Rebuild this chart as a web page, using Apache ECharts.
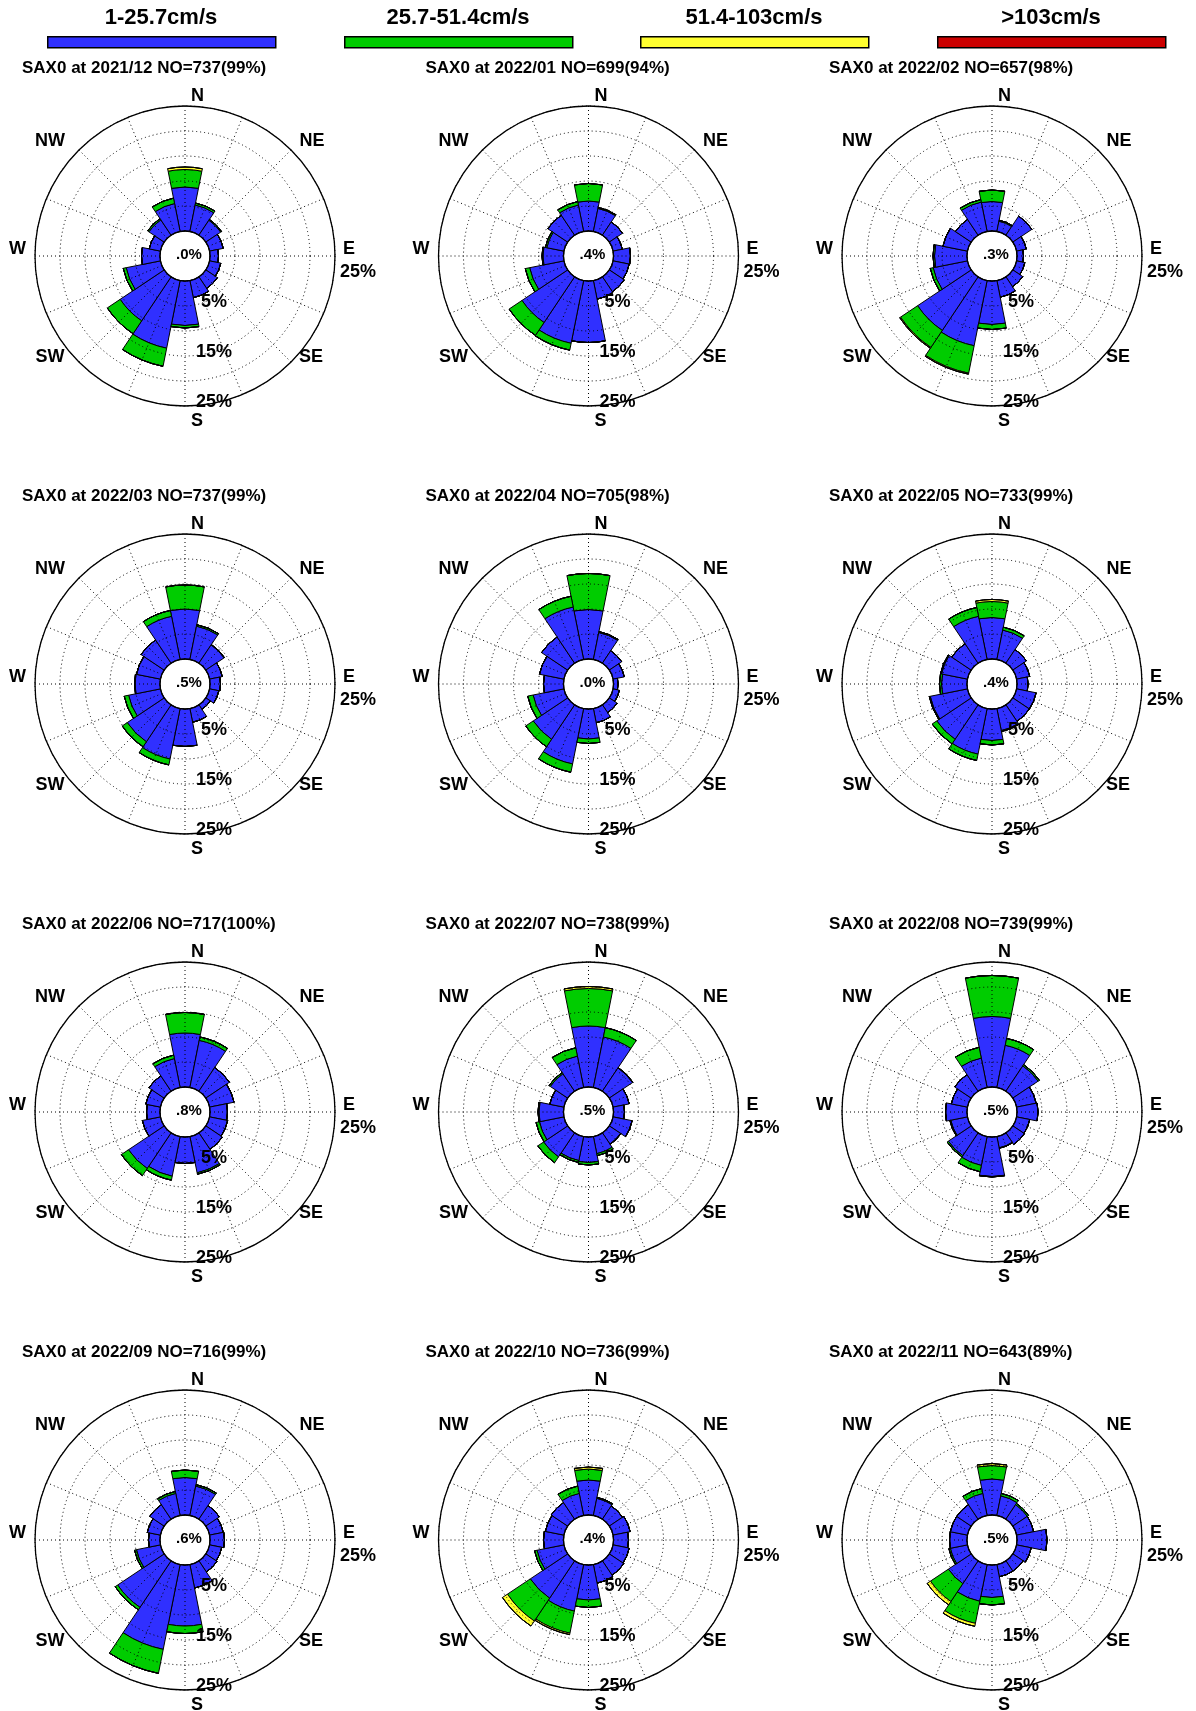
<!DOCTYPE html>
<html>
<head>
<meta charset="utf-8">
<script src="https://cdn.jsdelivr.net/npm/echarts@6/dist/echarts.min.js"></script>
<style>
html,body{margin:0;padding:0;background:#ffffff;}
#chart{width:1196px;height:1711px;}
</style>
</head>
<body>
<div id="chart"></div>
<script>
// ---------------- DATA ----------------
const directions = ['N','NNE','NE','ENE','E','ESE','SE','SSE','S','SSW','SW','WSW','W','WNW','NW','NNW'];
const speedClasses = ['1-25.7cm/s','25.7-51.4cm/s','51.4-103cm/s','>103cm/s'];
const months = ['2021/12','2022/01','2022/02','2022/03','2022/04','2022/05','2022/06','2022/07','2022/08','2022/09','2022/10','2022/11'];
const counts = ['737(99%)','699(94%)','657(98%)','737(99%)','705(98%)','733(99%)','717(100%)','738(99%)','739(99%)','716(99%)','736(99%)','643(89%)'];
const calms = ['.0%','.4%','.3%','.5%','.0%','.4%','.8%','.5%','.5%','.6%','.4%','.5%'];
const compassLabels = ['N','NE','E','SE','S','SW','W','NW'];
const ringTicks = [5, 15, 25];

// percent frequency, 1-25.7 cm/s
const speed1 = [
  [8.8,5.4,3.6,2.8,1.7,2.3,2.8,3.5,8.9,13.8,10.6,7.0,3.7,2.3,3.7,5.7],
  [6.0,4.7,3.2,1.9,3.4,3.3,3.6,3.8,12.3,12.8,11.0,7.0,4.1,3.5,4.8,5.4],
  [5.9,2.1,4.6,2.0,1.3,1.7,2.4,3.4,8.7,13.3,12.9,7.0,6.5,5.0,3.8,6.0],
  [10.0,6.8,4.4,2.6,2.1,1.9,1.1,2.8,7.5,10.3,8.9,6.5,5.0,4.9,5.6,8.8],
  [9.9,5.5,3.0,2.3,0.9,1.3,1.9,2.9,6.0,11.3,8.3,6.3,4.0,5.0,6.3,10.7],
  [8.3,6.0,3.3,2.7,2.2,4.0,4.0,4.5,6.3,9.3,8.3,7.6,5.1,5.3,4.7,8.8],
  [10.8,9.6,5.7,5.0,3.5,3.7,4.0,7.4,5.3,8.1,8.6,3.7,2.7,3.0,3.7,5.9],
  [12.2,10.3,5.6,3.3,2.2,3.9,2.7,3.5,5.1,4.9,5.8,5.0,4.9,2.9,4.2,6.4],
  [14.1,8.6,6.1,4.0,4.2,2.7,2.8,2.3,7.9,5.9,5.5,3.4,4.3,3.3,4.0,6.0],
  [7.5,6.0,3.3,2.8,2.9,2.5,2.7,4.8,12.2,17.3,11.2,4.9,2.3,2.7,3.5,4.5],
  [7.0,3.5,3.2,3.5,3.0,3.3,3.5,3.8,7.0,9.5,9.0,5.5,4.0,3.8,4.0,4.5],
  [7.2,4.0,3.5,3.5,6.0,3.0,2.5,2.5,6.5,7.5,5.5,3.5,3.5,3.5,3.5,4.5]
];
// 25.7-51.4 cm/s
const speed2 = [
  [3.5,0.4,0.2,0,0,0,0,0,0.5,3.7,3.1,0.6,0,0,0.3,1.1],
  [3.5,0.2,0,0,0,0,0,0,0,1.4,3.1,0.9,0.2,0.3,0,0.7],
  [2.3,0.2,0,0,0,0,0,0,1.0,5.6,4.1,0.6,0.3,0,0,0.5],
  [4.8,0.3,0.1,0,0,0,0,0,0,1.2,1.2,0.9,0.1,0,0,1.2],
  [7.2,0.2,0,0,0,0,0,0,0.9,1.7,1.8,1.1,0,0,0,2.2],
  [3.2,0.6,0,0,0,0,0,0.2,0.9,1.3,1.1,0.2,0.4,0.2,0,1.8],
  [4.1,0.7,0,0,0,0,0,0.3,0,0.8,1.7,0,0,0,0,0.7],
  [7.5,1.9,0.1,0,0,0,0.1,0.4,0.5,0.4,1.4,0.7,0.2,0,0.3,1.7],
  [8.2,1.4,0.3,0,0,0,0,0.1,0.1,1.3,0.3,0.2,0,0,0,2.2],
  [1.5,0.3,0,0,0,0,0,0,1.5,4.9,0.6,0.4,0,0,0,0.4],
  [2.2,0.2,0,0,0,0,0,0,1.5,4.5,5.5,0.5,0,0,0,1.5],
  [2.7,0.5,0.3,0,0,0,0,0,1.5,4.5,4.3,0.3,0,0,0,1.0]
];
// 51.4-103 cm/s
const speed3 = [
  [0.5,0,0,0,0,0,0,0,0,0,0,0,0,0,0,0],
  [0,0,0,0,0,0,0,0,0,0,0,0,0,0,0,0],
  [0,0,0,0,0,0,0,0,0,0.2,0.2,0,0,0,0,0],
  [0,0,0,0,0,0,0,0,0,0,0,0,0,0,0,0],
  [0,0,0,0,0,0,0,0,0,0,0,0,0,0,0,0],
  [0.4,0,0,0,0,0,0,0,0,0,0,0,0,0,0,0],
  [0,0,0,0,0,0,0,0,0,0,0,0,0,0,0,0],
  [0.4,0,0,0,0,0,0,0,0,0,0,0,0,0,0,0],
  [0,0,0,0,0,0,0,0,0,0,0,0,0,0,0,0],
  [0,0,0,0,0,0,0,0,0,0,0,0,0,0,0,0],
  [0.4,0,0,0,0,0,0,0,0,0.3,1.2,0,0,0,0,0],
  [0.4,0,0,0,0,0,0,0,0,0.6,0.8,0,0,0,0,0]
];
// >103 cm/s
const speed4 = months.map(() => directions.map(() => 0));

// ---------------- LAYOUT / STYLE ----------------
const colX = [185, 588.5, 992];
const rowY = [256, 684, 1112, 1540];
const R_IN = 25, R_OUT = 150;
const colors = ['#3030ff', '#00cc00', '#ffff30', '#cc0000'];
const FONT = '"Liberation Sans", Arial, Helvetica, sans-serif';
const compassOffset = {
  N: [12.5, -159.5], NE: [127, -115], E: [164, -7], SE: [126, 101],
  S: [12, 165], SW: [-135, 101], W: [-167.5, -7], NW: [-135, -115]
};
const speedArrays = [speed1, speed2, speed3, speed4];

const polar = [], angleAxis = [], radiusAxis = [], series = [], graphic = [], legend = [];

months.forEach((m, k) => {
  const cx = colX[k % 3], cy = rowY[Math.floor(k / 3)];
  const pBar = 2 * k, pGrid = 2 * k + 1;
  polar.push({ center: [cx, cy], radius: [R_IN, R_OUT] });
  polar.push({ center: [cx, cy], radius: [R_IN, R_OUT] });

  angleAxis.push({
    polarIndex: pBar, type: 'category', data: directions, startAngle: 101.25,
    boundaryGap: true, axisLine: { show: false }, axisTick: { show: false },
    axisLabel: { show: false }, splitLine: { show: false }, z: 1
  });
  angleAxis.push({
    polarIndex: pGrid, type: 'value', min: 0, max: 360, interval: 22.5, startAngle: 270,
    axisLine: { show: true, lineStyle: { color: '#000', width: 1.3 } },
    axisTick: { show: false }, axisLabel: { show: false },
    splitLine: { show: true, lineStyle: { color: '#000', width: 1, type: [1, 3] } },
    z: 6
  });
  radiusAxis.push({
    polarIndex: pBar, type: 'value', min: 0, max: 25,
    axisLine: { show: false }, axisTick: { show: false }, axisLabel: { show: false },
    splitLine: { show: false }, z: 1
  });
  radiusAxis.push({
    polarIndex: pGrid, type: 'value', min: 0, max: 25, interval: 5,
    axisLine: { show: false }, axisTick: { show: false },
    splitLine: { show: true, lineStyle: { color: '#000', width: 1, type: [1, 3] } },
    axisLabel: {
      show: true, margin: 29, align: 'center', verticalAlign: 'bottom', lineHeight: 8,
      showMinLabel: true, showMaxLabel: true,
      formatter: v => (ringTicks.indexOf(v) >= 0 ? v + '%' : ''),
      color: '#000', fontSize: 18, fontWeight: 'bold', fontFamily: FONT
    },
    z: 7
  });

  speedArrays.forEach((arr, s) => {
    series.push({
      type: 'bar', coordinateSystem: 'polar', polarIndex: pBar,
      name: speedClasses[s], stack: 'rose' + k, data: arr[k],
      barCategoryGap: '0%', silent: true,
      itemStyle: { color: colors[s], borderColor: '#000', borderWidth: 1 }
    });
  });

  // title
  graphic.push({
    type: 'text', x: cx - 163, y: cy - 188, z: 20,
    style: { text: 'SAX0 at ' + m + ' NO=' + counts[k], fill: '#000',
      font: 'bold 17px ' + FONT, align: 'left', verticalAlign: 'middle' }
  });
  // compass labels
  compassLabels.forEach(d => {
    const o = compassOffset[d];
    graphic.push({
      type: 'text', x: cx + o[0], y: cy + o[1], z: 20,
      style: { text: d, fill: '#000', font: 'bold 18px ' + FONT, align: 'center', verticalAlign: 'middle' }
    });
  });
  // outer ring label by E
  graphic.push({
    type: 'text', x: cx + 173, y: cy + 16, z: 20,
    style: { text: ringTicks[ringTicks.length - 1] + '%', fill: '#000', font: 'bold 18px ' + FONT, align: 'center', verticalAlign: 'middle' }
  });
  // calm percentage
  graphic.push({
    type: 'text', x: cx + 4, y: cy - 1, z: 20,
    style: { text: calms[k], fill: '#000', font: 'bold 15px ' + FONT, align: 'center', verticalAlign: 'middle' }
  });
});

// legend: bars via legend component, names above via text
const legendX = [47, 344, 640, 937];
speedClasses.forEach((name, i) => {
  legend.push({
    data: [name], left: legendX[i], top: 36, padding: 0, itemGap: 0,
    itemWidth: 228, itemHeight: 11, icon: 'rect', selectedMode: false,
    formatter: () => '',
    itemStyle: { borderColor: '#000', borderWidth: 1.5 }
  });
  graphic.push({
    type: 'text', x: legendX[i] + 114, y: 18, z: 20,
    style: { text: name, fill: '#000', font: 'bold 22px ' + FONT, align: 'center', verticalAlign: 'middle' }
  });
});

const chart = echarts.init(document.getElementById('chart'), null, { renderer: 'canvas' });
chart.setOption({
  animation: false,
  backgroundColor: '#ffffff',
  legend, polar, angleAxis, radiusAxis, series, graphic
});
</script>
</body>
</html>
